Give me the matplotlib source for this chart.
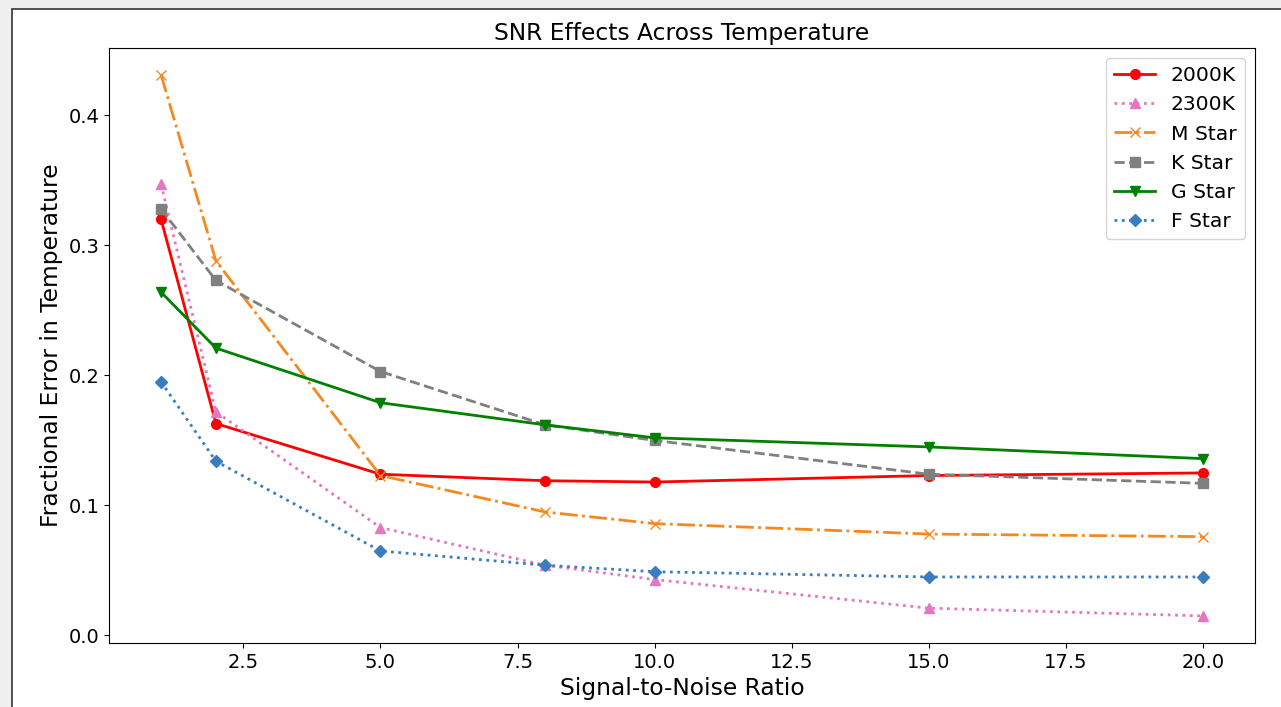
import matplotlib
matplotlib.use("Agg")
import matplotlib.pyplot as plt
from matplotlib.patches import Rectangle

# Signal-to-noise ratios sampled
snr = [1, 2, 5, 8, 10, 15, 20]

# Fractional error in temperature for each model
err_2000k = [0.320, 0.163, 0.124, 0.119, 0.118, 0.123, 0.125]
err_2300k = [0.347, 0.172, 0.083, 0.054, 0.043, 0.021, 0.015]
err_m_star = [0.431, 0.288, 0.123, 0.095, 0.086, 0.078, 0.076]
err_k_star = [0.328, 0.273, 0.203, 0.162, 0.150, 0.124, 0.117]
err_g_star = [0.264, 0.221, 0.179, 0.162, 0.152, 0.145, 0.136]
err_f_star = [0.195, 0.134, 0.065, 0.054, 0.049, 0.045, 0.045]

fig = plt.figure(figsize=(12.81, 7.07), dpi=100, facecolor="#f0f0f0")

# white panel with dark frame, like the screenshot
fig.patches.append(Rectangle((12 / 1281, -0.05), 1.0, (707 - 9) / 707 + 0.05,
                             transform=fig.transFigure, facecolor="white",
                             edgecolor="#333333", linewidth=1.2, zorder=-5))

ax = fig.add_axes([109 / 1281, 1 - 643 / 707, (1255 - 109) / 1281, (643 - 48) / 707])

ax.plot(snr, err_2000k, "-o", color="red", lw=2, ms=7, label="2000K")
ax.plot(snr, err_2300k, ":^", color="#e377c2", lw=2, ms=7, label="2300K")
ax.plot(snr, err_m_star, "-.x", color="#f5891f", lw=2, ms=7, label="M Star")
ax.plot(snr, err_k_star, "--s", color="gray", lw=2, ms=7, label="K Star")
ax.plot(snr, err_g_star, "-v", color="green", lw=2, ms=7, label="G Star")
ax.plot(snr, err_f_star, ":D", color="#3a7dbf", lw=2, ms=6, label="F Star")

ax.set_xticks([2.5, 5.0, 7.5, 10.0, 12.5, 15.0, 17.5, 20.0])
ax.set_yticks([0.0, 0.1, 0.2, 0.3, 0.4])
ax.tick_params(labelsize=14)

ax.set_title("SNR Effects Across Temperature", fontsize=16.8)
ax.set_xlabel("Signal-to-Noise Ratio", fontsize=16.8)
ax.set_ylabel("Fractional Error in Temperature", fontsize=16.8)

ax.legend(loc="upper right", fontsize=14.6)

fig.savefig("out.png", dpi=100, facecolor=fig.get_facecolor())
